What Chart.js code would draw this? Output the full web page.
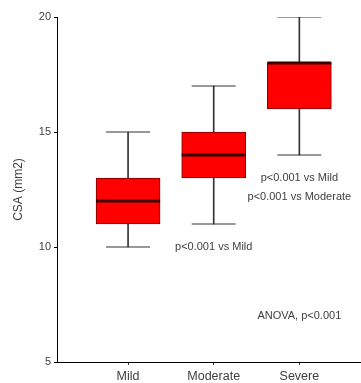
<!DOCTYPE html>
<html>
<head>
<meta charset="utf-8">
<script src="https://cdn.jsdelivr.net/npm/chart.js@4"></script>
<style>
  html, body { margin: 0; padding: 0; background: #fff; }
  #wrap { width: 361px; height: 383px; }
</style>
</head>
<body>
<div id="wrap"><canvas id="myChart" width="361" height="383"></canvas></div>
<script>
// box plot values
var categories = ['Mild', 'Moderate', 'Severe'];
var positions = [1, 2, 3];
var mins = [10, 11, 14];
var q1s = [11, 13, 16];
var medians = [12, 14, 18];
var q3s = [13, 15, 18];
var maxs = [15, 17, 20];

var yTicks = [5, 10, 15, 20];

// text notes, placed in data units
var noteTexts = ['p<0.001 vs Mild', 'p<0.001 vs Mild', 'p<0.001 vs Moderate', 'ANOVA, p<0.001'];
var noteX = [2, 3, 3, 3];
var noteY = [10, 13, 12.17, 7];

var textColor = '#404040';
var lineColor = '#333333';

function pairs(lo, hi) {
  return positions.map(function (p, i) { return { x: p, y: [lo[i], hi[i]] }; });
}
function points(vals) {
  return positions.map(function (p, i) { return { x: p, y: vals[i] }; });
}

var notesPlugin = {
  id: 'notes',
  afterDatasetsDraw: function (chart) {
    var ctx = chart.ctx;
    var xs = chart.scales.x, ys = chart.scales.y;
    ctx.save();
    ctx.font = '11px "Liberation Sans", Arial, sans-serif';
    ctx.fillStyle = textColor;
    ctx.textAlign = 'center';
    ctx.textBaseline = 'middle';
    noteTexts.forEach(function (t, i) {
      ctx.fillText(t, xs.getPixelForValue(noteX[i]), ys.getPixelForValue(noteY[i]));
    });
    ctx.restore();
  }
};

var ctx = document.getElementById('myChart').getContext('2d');
var myChart = new Chart(ctx, {
  type: 'bar',
  data: {
    datasets: [
      // whiskers
      { data: pairs(mins, q1s), backgroundColor: lineColor, barThickness: 1, grouped: false, order: 5 },
      { data: pairs(q3s, maxs), backgroundColor: lineColor, barThickness: 1, grouped: false, order: 5 },
      // box halves
      { data: pairs(q1s, medians), backgroundColor: '#ff0000', borderColor: '#7a0000', borderWidth: 1,
        borderSkipped: false, barThickness: 64, grouped: false, order: 4 },
      { data: pairs(medians, q3s), backgroundColor: '#ff0000', borderColor: '#7a0000', borderWidth: 1,
        borderSkipped: false, barThickness: 64, grouped: false, order: 4 },
      // caps
      { type: 'scatter', data: points(mins), pointStyle: 'line', pointRadius: 22, borderWidth: 1,
        borderColor: lineColor, order: 3 },
      { type: 'scatter', data: points(maxs), pointStyle: 'line', pointRadius: 22, borderWidth: 1,
        borderColor: lineColor, order: 3 },
      // medians
      { type: 'scatter', data: points(medians), pointStyle: 'line', pointRadius: 32, borderWidth: 3,
        borderColor: '#3a0000', order: 1 }
    ]
  },
  options: {
    responsive: false,
    animation: false,
    layout: { autoPadding: false, padding: { top: 17, right: 0, left: 0, bottom: 0 } },
    plugins: { legend: { display: false }, tooltip: { enabled: false } },
    scales: {
      x: {
        type: 'linear',
        offset: false,
        min: 0.17,
        max: 3.72,
        afterBuildTicks: function (scale) {
          scale.ticks = positions.map(function (p) { return { value: p }; });
        },
        afterFit: function (scale) { scale.height = 21; },
        grid: { display: true, offset: false, drawOnChartArea: false, drawTicks: true, tickLength: 3, color: lineColor },
        border: { display: true, color: '#000', width: 1 },
        ticks: {
          padding: 4,
          color: textColor,
          font: { family: '"Liberation Sans", Arial, sans-serif', size: 12.5 },
          callback: function (v) { return categories[v - 1]; }
        }
      },
      y: {
        min: 5,
        max: 20,
        afterBuildTicks: function (scale) {
          scale.ticks = yTicks.map(function (v) { return { value: v }; });
        },
        afterFit: function (scale) { scale.width = 57; },
        grid: { display: true, drawOnChartArea: false, drawTicks: true, tickLength: 3, color: '#000' },
        border: { display: true, color: '#000', width: 1 },
        title: {
          display: true,
          text: 'CSA (mm2)',
          color: textColor,
          padding: { top: 11, bottom: 0 },
          font: { family: '"Liberation Sans", Arial, sans-serif', size: 12 }
        },
        ticks: {
          padding: 3,
          color: textColor,
          font: { family: '"Liberation Sans", Arial, sans-serif', size: 11 }
        }
      }
    }
  },
  plugins: [notesPlugin]
});
</script>
</body>
</html>
